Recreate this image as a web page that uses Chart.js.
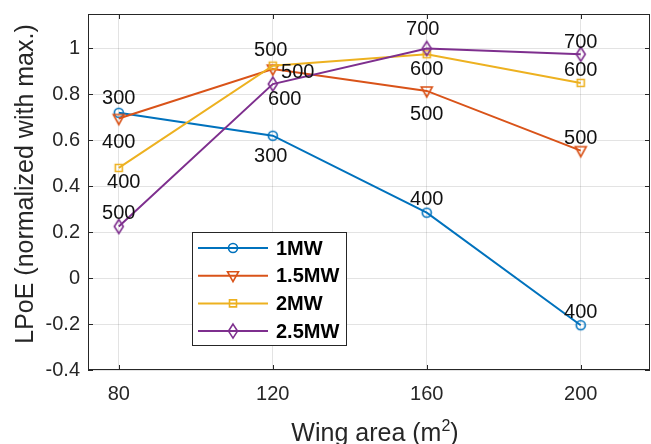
<!DOCTYPE html>
<html>
<head>
<meta charset="utf-8">
<script src="https://cdn.jsdelivr.net/npm/chart.js@4.4.1/dist/chart.umd.min.js"></script>
<style>
  html, body { margin: 0; background: #fff; }
  #wrap { width: 651px; height: 444px; }
</style>
</head>
<body>
<div id="wrap"><canvas id="c" width="651" height="444"></canvas></div>
<script>
// data
const wingArea = [80, 120, 160, 200];
const seriesNames = ['1MW', '1.5MW', '2MW', '2.5MW'];
const lpoe1MW = [0.72, 0.62, 0.285, -0.205];
const lpoe15MW = [0.695, 0.91, 0.815, 0.555];
const lpoe2MW = [0.48, 0.925, 0.975, 0.85];
const lpoe25MW = [0.225, 0.845, 1.0, 0.975];
// numbers written next to each marker
const notes1MW = ['300', '300', '400', '400'];
const notes15MW = ['400', '500', '500', '500'];
const notes2MW = ['400', '500', '600', '600'];
const notes25MW = ['500', '600', '700', '700'];
const xTicks = [80, 120, 160, 200];
const yTicks = [-0.4, -0.2, 0, 0.2, 0.4, 0.6, 0.8, 1];

// where each note sits relative to its marker (px)
const noteOffsets = [
  [[0, -14], [-2, 21], [0, -13], [0, -13]],
  [[0, 24], [25, 3], [0, 24], [0, -12.5]],
  [[5, 14.5], [-2, -15], [0, 15], [0, -12.5]],
  [[0, -13], [12, 15.5], [-4, -18.5], [0, -11.5]]
];

const FONT = '"Liberation Sans", Arial, Helvetica, sans-serif';
const colors = ['#0072BD', '#D95319', '#EDB120', '#7E2F8E'];
const markers = ['circle', 'triDown', 'square', 'diamond'];
const axisColor = '#262626';

// draw a hollow MATLAB-like marker
function drawMarker(ctx, kind, x, y, color) {
  ctx.save();
  ctx.strokeStyle = color;
  ctx.lineWidth = 1.6;
  ctx.beginPath();
  if (kind === 'circle') {
    ctx.arc(x, y, 4.5, 0, Math.PI * 2);
  } else if (kind === 'triDown') {
    ctx.moveTo(x - 5.5, y - 4);
    ctx.lineTo(x + 5.5, y - 4);
    ctx.lineTo(x, y + 6);
    ctx.closePath();
  } else if (kind === 'square') {
    ctx.rect(x - 3.5, y - 3.5, 7, 7);
  } else {
    ctx.moveTo(x, y - 7);
    ctx.lineTo(x + 4.5, y);
    ctx.lineTo(x, y + 7);
    ctx.lineTo(x - 4.5, y);
    ctx.closePath();
  }
  ctx.stroke();
  ctx.restore();
}

function markerImage(kind, color) {
  const cv = document.createElement('canvas');
  cv.width = 18; cv.height = 18;
  drawMarker(cv.getContext('2d'), kind, 9, 9, color);
  return cv;
}

const seriesValues = [lpoe1MW, lpoe15MW, lpoe2MW, lpoe25MW];
const seriesNotes = [notes1MW, notes15MW, notes2MW, notes25MW];

const datasets = seriesNames.map((name, i) => ({
  label: name,
  data: wingArea.map((x, j) => ({ x: x, y: seriesValues[i][j] })),
  borderColor: colors[i],
  borderWidth: 2,
  pointStyle: markerImage(markers[i], colors[i]),
  pointRadius: 5,
  tension: 0,
  fill: false,
  order: seriesNames.length - i
}));

// box, inward ticks, notes, axis titles, legend
const decorations = {
  id: 'decorations',
  afterDatasetsDraw(chart) {
    const ctx = chart.ctx;

    // notes beside markers
    ctx.save();
    ctx.font = '20px ' + FONT;
    ctx.fillStyle = '#111';
    ctx.textAlign = 'center';
    ctx.textBaseline = 'middle';
    chart.data.datasets.forEach((ds, i) => {
      const meta = chart.getDatasetMeta(i);
      meta.data.forEach((pt, j) => {
        const off = noteOffsets[i][j];
        ctx.fillText(seriesNotes[i][j], pt.x + off[0], pt.y + off[1]);
      });
    });
    ctx.restore();
  },
  afterDraw(chart) {
    const ctx = chart.ctx;
    const a = chart.chartArea;
    const xs = chart.scales.x, ys = chart.scales.y;

    ctx.save();
    ctx.strokeStyle = axisColor;
    ctx.lineWidth = 1;
    ctx.strokeRect(a.left + 0.5, a.top + 0.5, a.right - a.left - 1, a.bottom - a.top - 1);
    ctx.beginPath();
    xTicks.forEach(v => {
      const px = Math.round(xs.getPixelForValue(v)) + 0.5;
      ctx.moveTo(px, a.bottom); ctx.lineTo(px, a.bottom - 5);
      ctx.moveTo(px, a.top); ctx.lineTo(px, a.top + 5);
    });
    yTicks.forEach(v => {
      const py = Math.round(ys.getPixelForValue(v)) + 0.5;
      ctx.moveTo(a.left, py); ctx.lineTo(a.left + 5, py);
      ctx.moveTo(a.right, py); ctx.lineTo(a.right - 5, py);
    });
    ctx.stroke();

    // axis titles
    ctx.fillStyle = axisColor;
    ctx.textBaseline = 'alphabetic';
    ctx.font = '25px ' + FONT;
    const main = 'Wing area (m';
    const wMain = ctx.measureText(main).width;
    const wClose = ctx.measureText(')').width;
    ctx.font = '16px ' + FONT;
    const wSup = ctx.measureText('2').width;
    let tx = 375 - (wMain + wSup + wClose) / 2;
    const base = 441;
    ctx.font = '25px ' + FONT;
    ctx.textAlign = 'left';
    ctx.fillText(main, tx, base);
    ctx.font = '16px ' + FONT;
    ctx.fillText('2', tx + wMain, base - 10);
    ctx.font = '25px ' + FONT;
    ctx.fillText(')', tx + wMain + wSup, base);

    ctx.translate(33, 184);
    ctx.rotate(-Math.PI / 2);
    ctx.textAlign = 'center';
    ctx.fillText('LPoE (normalized with max.)', 0, 0);
    ctx.restore();

    // legend
    const box = { x: 192, y: 232, w: 154, h: 113 };
    ctx.save();
    ctx.fillStyle = '#fff';
    ctx.fillRect(box.x, box.y, box.w, box.h);
    ctx.strokeStyle = axisColor;
    ctx.lineWidth = 1;
    ctx.strokeRect(box.x + 0.5, box.y + 0.5, box.w, box.h);
    ctx.font = 'bold 20px ' + FONT;
    ctx.textBaseline = 'middle';
    ctx.textAlign = 'left';
    seriesNames.forEach((name, i) => {
      const ry = 248 + i * 27.7;
      ctx.strokeStyle = colors[i];
      ctx.lineWidth = 2;
      ctx.beginPath();
      ctx.moveTo(198, ry); ctx.lineTo(268, ry);
      ctx.stroke();
      drawMarker(ctx, markers[i], 233, ry, colors[i]);
      ctx.fillStyle = '#000';
      ctx.fillText(name, 276, ry + 1);
    });
    ctx.restore();
  }
};

const gridColor = 'rgba(38,38,38,0.13)';

new Chart(document.getElementById('c'), {
  type: 'line',
  data: { datasets: datasets },
  options: {
    responsive: false,
    animation: false,
    devicePixelRatio: 1,
    layout: { autoPadding: false, padding: { top: 14, right: 1, left: 0, bottom: 0 } },
    plugins: { legend: { display: false }, tooltip: { enabled: false } },
    scales: {
      x: {
        type: 'linear',
        min: 72,
        max: 218,
        afterFit(s) {
          s.height = 74;
          s.paddingLeft = 0; s.paddingRight = 0;
          s.paddingTop = 0; s.paddingBottom = 0;
        },
        afterBuildTicks(s) { s.ticks = xTicks.map(v => ({ value: v })); },
        grid: { color: gridColor, drawTicks: false },
        border: { display: false },
        ticks: {
          font: { family: FONT, size: 20 },
          color: axisColor,
          padding: 12,
          maxRotation: 0,
          callback: v => String(v)
        }
      },
      y: {
        type: 'linear',
        min: -0.4,
        max: 1.15,
        afterFit(s) {
          s.width = 88;
          s.paddingLeft = 0; s.paddingRight = 0;
          s.paddingTop = 0; s.paddingBottom = 0;
        },
        afterBuildTicks(s) { s.ticks = yTicks.map(v => ({ value: v })); },
        grid: { color: gridColor, drawTicks: false },
        border: { display: false },
        ticks: {
          font: { family: FONT, size: 20 },
          color: axisColor,
          padding: 8,
          callback: v => String(Number(v.toFixed(1)))
        }
      }
    }
  },
  plugins: [decorations]
});
</script>
</body>
</html>
